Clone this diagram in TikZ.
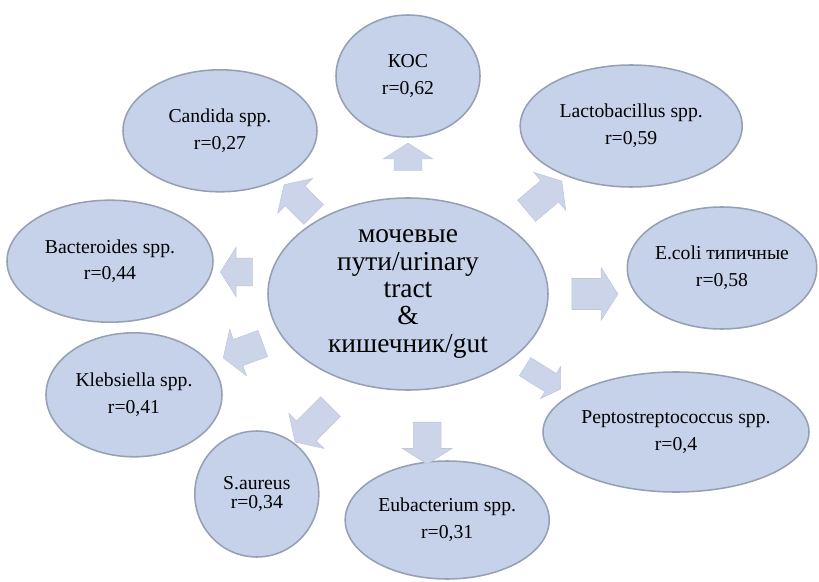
\documentclass[tikz,border=0pt]{standalone}
\usepackage{fontspec}
\setmainfont{Liberation Serif}
\usepackage{xcolor}
\usepackage{tikz}
\usetikzlibrary{positioning, shapes.geometric, shapes.arrows}

\definecolor{bubin}{RGB}{198,210,233}
\definecolor{bubout}{RGB}{168,184,212}
\definecolor{bubline}{RGB}{150,160,180}
\definecolor{arrfill}{RGB}{204,212,234}

\pgfdeclareradialshading{bubshade}{\pgfpoint{0bp}{0bp}}{color(0bp)=(bubin); color(28bp)=(bubin); color(47bp)=(bubout); color(50bp)=(bubout)}

\tikzset{
  bubble/.style={ellipse, draw=bubline, line width=1.1pt, shading=bubshade, inner sep=0pt, align=center, font=\fontsize{14}{19}\selectfont, text=black},
  blockarr/.style={single arrow, fill=arrfill, draw=arrfill!85!gray, line width=0.4pt, inner xsep=0pt, inner ysep=0.34cm, minimum height=1.05cm, single arrow head extend=0.27cm, single arrow tip angle=115}
}

\begin{document}
\begin{tikzpicture} [node distance = 3cm, on grid, auto]
\useasboundingbox (-10.2,-7.175) rectangle (10.275,7.35);

\node (c) [bubble, minimum width=7cm, minimum height=4.8cm, font=\fontsize{19.5}{19.5}\selectfont] {мочевые\\пути/urinary\\tract\\\&\\кишечник/gut};

\node (koc) [bubble, minimum width=3.6cm, minimum height=3.05cm, above = 5.45cm of c] {КОС\\r=0,62};
\node (cand) [bubble, minimum width=4.85cm, minimum height=3.05cm, above left = 4.08cm and 4.7cm of c] {Candida spp.\\r=0,27};
\node (lacto) [bubble, minimum width=5.55cm, minimum height=3.05cm, above right = 4.2cm and 5.58cm of c] {Lactobacillus spp.\\r=0,59};
\node (bact) [bubble, minimum width=5.15cm, minimum height=3.05cm, above left = 0.82cm and 7.45cm of c] {Bacteroides spp.\\r=0,44};
\node (ecoli) [bubble, minimum width=4.6cm, minimum height=3.05cm, above right = 0.65cm and 7.85cm of c] {E.coli типичные\\r=0,58};
\node (kleb) [bubble, minimum width=4.4cm, minimum height=3.1cm, below left = 2.52cm and 6.85cm of c] {Klebsiella spp.\\r=0,41};
\node (saur) [bubble, minimum width=3.1cm, minimum height=3.15cm, below left = 5cm and 3.78cm of c] {S.aureus\\[-6pt]r=0,34};
\node (eubac) [bubble, minimum width=5.1cm, minimum height=2.95cm, below right = 5.65cm and 0.98cm of c] {Eubacterium spp.\\r=0,31};
\node (pepto) [bubble, minimum width=6.65cm, minimum height=3cm, below right = 3.45cm and 6.7cm of c] {\makebox[0pt]{Peptostreptococcus spp.}\\r=0,4};

\node (akoc) [blockarr, rotate=90, minimum height=0.68cm, above = 3.32cm of c] {};
\node (acand) [blockarr, rotate=135, above left = 2.28cm and 2.65cm of c] {};
\node (alacto) [blockarr, rotate=40, minimum height=1.15cm, above right = 2.38cm and 3.32cm of c] {};
\node (abact) [blockarr, rotate=180, minimum height=0.8cm, above left = 0.55cm and 4.18cm of c] {};
\node (aecoli) [blockarr, minimum height=1.15cm, inner ysep=0.38cm, right = 4.55cm of c] {};
\node (akleb) [blockarr, rotate=200, below left = 1.38cm and 4.02cm of c] {};
\node (asaur) [blockarr, rotate=225, minimum height=1.25cm, below left = 3.18cm and 2.3cm of c] {};
\node (aeubac) [blockarr, rotate=270, below right = 3.62cm and 0.48cm of c] {};
\node (apepto) [blockarr, rotate=-32, inner ysep=0.26cm, single arrow head extend=0.2cm, below right = 2.05cm and 3.3cm of c] {};
\end{tikzpicture}
\end{document}
